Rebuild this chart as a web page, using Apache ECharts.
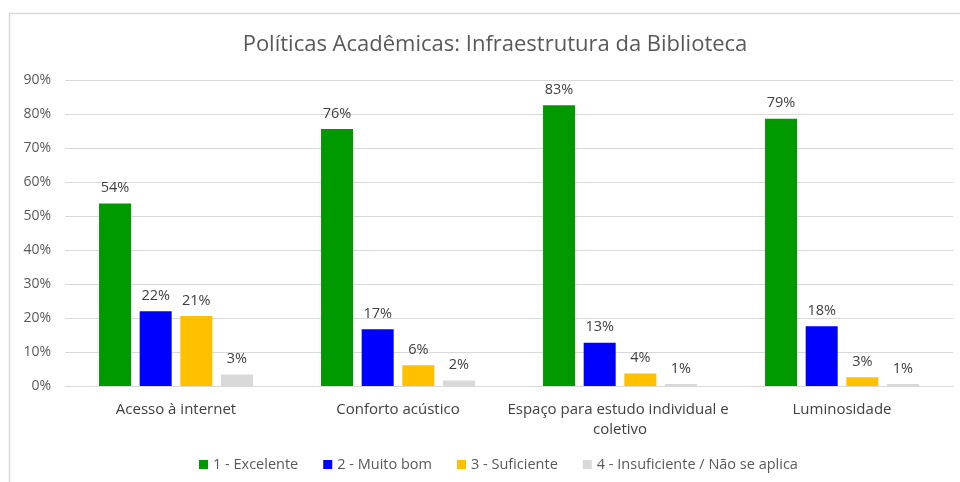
<!DOCTYPE html>
<html>
<head>
	<meta charset="UTF-8">
	<title></title>
	<style>
		html, body { margin: 0; padding: 0; background: #fff; }
		#myChart { width: 960px; height: 482px; }
	</style>
</head>
<body>
	<div id="myChart"></div>
	<script src="https://cdn.jsdelivr.net/npm/echarts@6/dist/echarts.min.js"></script>
	<script>
		var titleText = "Políticas Acadêmicas: Infraestrutura da Biblioteca";
		var categories = ["Acesso à internet", "Conforto acústico", "Espaço para estudo individual e coletivo", "Luminosidade"];
		var seriesNames = ["1 - Excelente", "2 - Muito bom", "3 - Suficiente", "4 - Insuficiente / Não se aplica"];
		var seriesColors = ["#009900", "#0000ff", "#ffc000", "#d9d9d9"];
		var excelente = [53.7, 75.6, 82.6, 78.6];
		var muitoBom = [22.0, 16.7, 12.7, 17.6];
		var suficiente = [20.6, 6.1, 3.7, 2.6];
		var insuficiente = [3.4, 1.6, 0.6, 0.6];
		var yTicks = [0, 10, 20, 30, 40, 50, 60, 70, 80, 90];

		var fontName = "'Open Sans', 'Noto Sans', sans-serif";
		var myChart = echarts.init(document.getElementById("myChart"));

		function makeSeries(name, values, color) {
			return {
				name: name,
				type: 'bar',
				data: values,
				barWidth: 32,
				barGap: '27%',
				itemStyle: { color: color },
				label: {
					show: true,
					position: 'top',
					distance: 8,
					color: '#404040',
					fontFamily: fontName,
					fontSize: 14.5,
					formatter: function(p) {
						return Math.round(p.value) + '%';
					}
				}
			};
		}

		var allValues = [excelente, muitoBom, suficiente, insuficiente];
		var series = [];
		for (var i = 0; i < seriesNames.length; i++) {
			series.push(makeSeries(seriesNames[i], allValues[i], seriesColors[i]));
		}

		var option = {
			backgroundColor: '#fff',
			animation: false,
			title: {
				text: titleText,
				left: 490,
				top: 29,
				textAlign: 'center',
				textStyle: {
					color: '#595959',
					fontFamily: fontName,
					fontWeight: 'normal',
					fontSize: 22
				}
			},
			graphic: [{
				type: 'rect',
				shape: { x: 9.5, y: 13.5, width: 1000, height: 1000 },
				style: { fill: 'none', stroke: '#d9d9d9', lineWidth: 1.5 },
				silent: true
			}],
			legend: {
				bottom: 5,
				left: 194,
				itemWidth: 9,
				itemHeight: 9,
				itemGap: 25,
				icon: 'rect',
				textStyle: {
					color: '#595959',
					fontFamily: fontName,
					fontSize: 14.5
				},
				data: seriesNames
			},
			grid: {
				left: 65,
				right: 7,
				top: 80,
				bottom: 96,
				outerBoundsMode: 'none'
			},
			xAxis: {
				type: 'category',
				data: categories,
				axisTick: { show: false },
				axisLine: { lineStyle: { color: '#d9d9d9', width: 1 } },
				axisLabel: {
					color: '#404040',
					fontFamily: fontName,
					fontSize: 15,
					margin: 14,
					width: 240,
					overflow: 'break',
					lineHeight: 20,
					interval: 0
				}
			},
			yAxis: {
				type: 'value',
				min: yTicks[0],
				max: yTicks[yTicks.length - 1],
				interval: 10,
				axisLine: { show: false },
				axisTick: { show: false },
				splitLine: { lineStyle: { color: '#d9d9d9', width: 1 } },
				axisLabel: {
					color: '#595959',
					fontFamily: fontName,
					fontSize: 14,
					margin: 14,
					formatter: '{value}%'
				}
			},
			series: series
		};

		myChart.setOption(option);
	</script>
</body>
</html>
